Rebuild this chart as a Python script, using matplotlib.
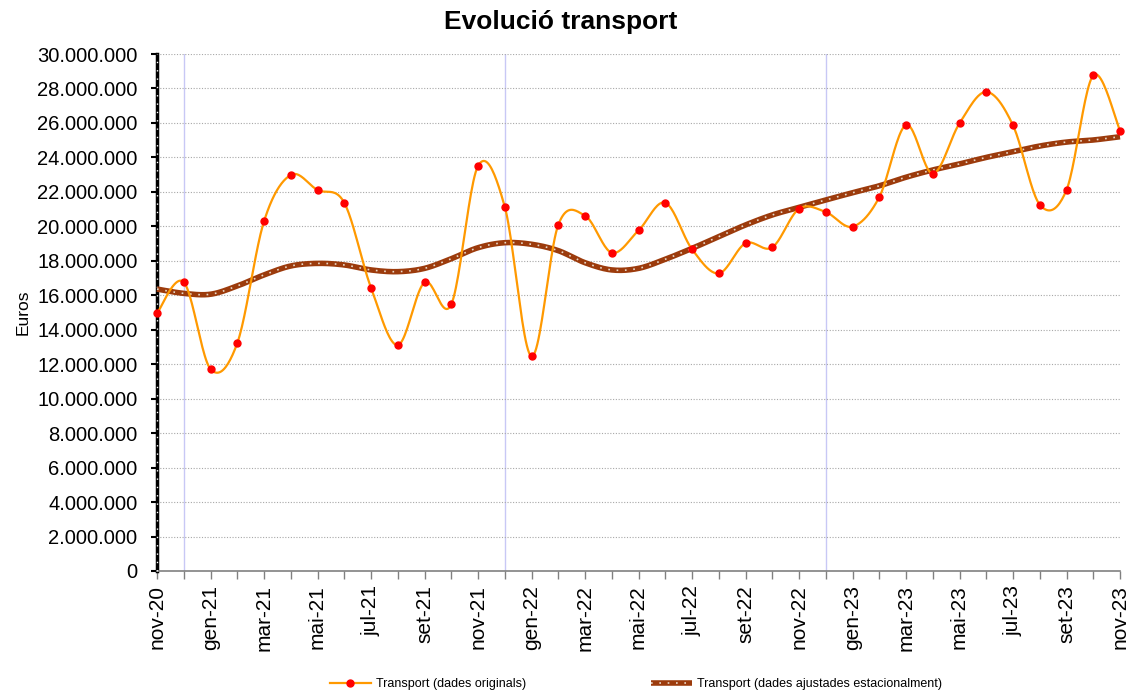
import numpy as np
import matplotlib
matplotlib.use("Agg")
import matplotlib.pyplot as plt
from matplotlib.lines import Line2D

plt.rcParams['font.family'] = ['Liberation Sans', 'DejaVu Sans']

# Dades (euros), de nov-20 a nov-23
mesos = ['nov-20', 'des-20', 'gen-21', 'feb-21', 'mar-21', 'abr-21', 'mai-21', 'jun-21', 'jul-21',
         'ago-21', 'set-21', 'oct-21', 'nov-21', 'des-21', 'gen-22', 'feb-22', 'mar-22', 'abr-22',
         'mai-22', 'jun-22', 'jul-22', 'ago-22', 'set-22', 'oct-22', 'nov-22', 'des-22', 'gen-23',
         'feb-23', 'mar-23', 'abr-23', 'mai-23', 'jun-23', 'jul-23', 'ago-23', 'set-23', 'oct-23',
         'nov-23']

originals = [14.95, 16.76, 11.72, 13.22, 20.29, 22.98, 22.11, 21.37, 16.44,
             13.11, 16.75, 15.47, 23.50, 21.14, 12.46, 20.08, 20.62, 18.47,
             19.76, 21.37, 18.67, 17.27, 19.02, 18.78, 21.02, 20.83, 19.98,
             21.69, 25.88, 23.06, 25.98, 27.80, 25.86, 21.26, 22.11, 28.76,
             25.55]

ajustades = [16.36, 16.11, 16.06, 16.54, 17.18, 17.70, 17.85, 17.76, 17.47,
             17.37, 17.56, 18.12, 18.76, 19.05, 18.96, 18.59, 17.89, 17.47,
             17.56, 18.09, 18.72, 19.40, 20.08, 20.66, 21.10, 21.53, 21.95,
             22.35, 22.85, 23.27, 23.62, 24.00, 24.33, 24.66, 24.89, 25.01,
             25.20]

originals = np.array(originals) * 1e6
ajustades = np.array(ajustades) * 1e6
x = np.arange(len(mesos))


def suavitzar(xs, ys, sx, sy, n=24):
    # corba suavitzada tipus Excel (Bezier amb tensio 1/6) en espai de pixels
    P = np.column_stack([xs * sx, ys * sy])
    trossos = []
    for i in range(len(P) - 1):
        p0 = P[i - 1] if i > 0 else P[i]
        p1 = P[i]
        p2 = P[i + 1]
        p3 = P[i + 2] if i + 2 < len(P) else P[i + 1]
        c1 = p1 + (p2 - p0) / 6
        c2 = p2 - (p3 - p1) / 6
        t = np.linspace(0, 1, n)[:, None]
        seg = (1 - t) ** 3 * p1 + 3 * (1 - t) ** 2 * t * c1 + 3 * (1 - t) * t ** 2 * c2 + t ** 3 * p2
        trossos.append(seg if i == 0 else seg[1:])
    seg = np.vstack(trossos)
    return seg[:, 0] / sx, seg[:, 1] / sy


fig = plt.figure(figsize=(11.36, 6.97), dpi=100)
ax = fig.add_axes([157 / 1136, 1 - 571 / 697, (1120 - 157) / 1136, (571 - 54) / 697])

sx = 26.75
sy = 17.233e-6

# linies verticals de canvi d'any
for xv in [1, 13, 25]:
    ax.axvline(xv, color='#C8C8F5', lw=1, zorder=1)

# quadricula horitzontal
for yv in range(2000000, 30000001, 2000000):
    ax.axhline(yv, color='#A8A8A8', lw=0.8, ls=(0, (1, 1.5)), zorder=1)

# serie ajustada
xa, ya = suavitzar(x, ajustades, sx, sy)
ax.plot(xa, ya, color='#9C3B0C', lw=4, solid_capstyle='butt', zorder=3, clip_on=False)
ax.plot(xa, ya, color='#E8D8C8', lw=1.2, ls=(0, (1, 4)), zorder=4, clip_on=False)

# serie original
xo, yo = suavitzar(x, originals, sx, sy)
ax.plot(xo, yo, color='#FF9900', lw=1.6, zorder=5, clip_on=False)
ax.plot(x, originals, 'o', color='#FF0000', ms=5, zorder=6, clip_on=False)

ax.set_xlim(0, 36)
ax.set_ylim(0, 30000000)

yt = list(range(0, 30000001, 2000000))
ax.set_yticks(yt)
ax.set_yticklabels([f"{v:,}".replace(',', '.') for v in yt], fontsize=14.5)
ax.set_xticks(x)
ax.set_xticklabels([m if i % 2 == 0 else '' for i, m in enumerate(mesos)], rotation=90, fontsize=15)

ax.tick_params(axis='y', direction='out', length=4, width=1.5, color='black', pad=10)
ax.tick_params(axis='x', direction='out', length=6, width=1, color='#808080', pad=4)

for s in ['top', 'right']:
    ax.spines[s].set_visible(False)
ax.spines['bottom'].set_color('#808080')
ax.spines['bottom'].set_linewidth(1.2)
ax.spines['left'].set_color('black')
ax.spines['left'].set_linewidth(2.5)
# eix vertical amb punts blancs
ax.axvline(0, color='white', lw=1, ls=(0, (1, 5)), zorder=2.7, clip_on=False)

ax.set_ylabel('Euros', fontsize=12.5, labelpad=5)
fig.text(561 / 1136, 1 - 22 / 697, 'Evolució transport', fontsize=19, fontweight='bold',
         ha='center', va='center')

h1 = Line2D([], [], color='#FF9900', lw=1.6, marker='o', mfc='#FF0000', mec='#FF0000', ms=5)
h2a = Line2D([], [], color='#9C3B0C', lw=4, solid_capstyle='butt')
h2b = Line2D([], [], color='#E8D8C8', lw=1.2, ls=(0, (1, 4)))
fig.legend([h1, (h2a, h2b)],
           ['Transport (dades originals)', 'Transport (dades ajustades estacionalment)'],
           loc='center', bbox_to_anchor=(636 / 1136, 1 - 684 / 697), ncol=2, frameon=False,
           fontsize=9, handlelength=3.3, handletextpad=0.4, columnspacing=10)

fig.savefig('out.png', dpi=100)
